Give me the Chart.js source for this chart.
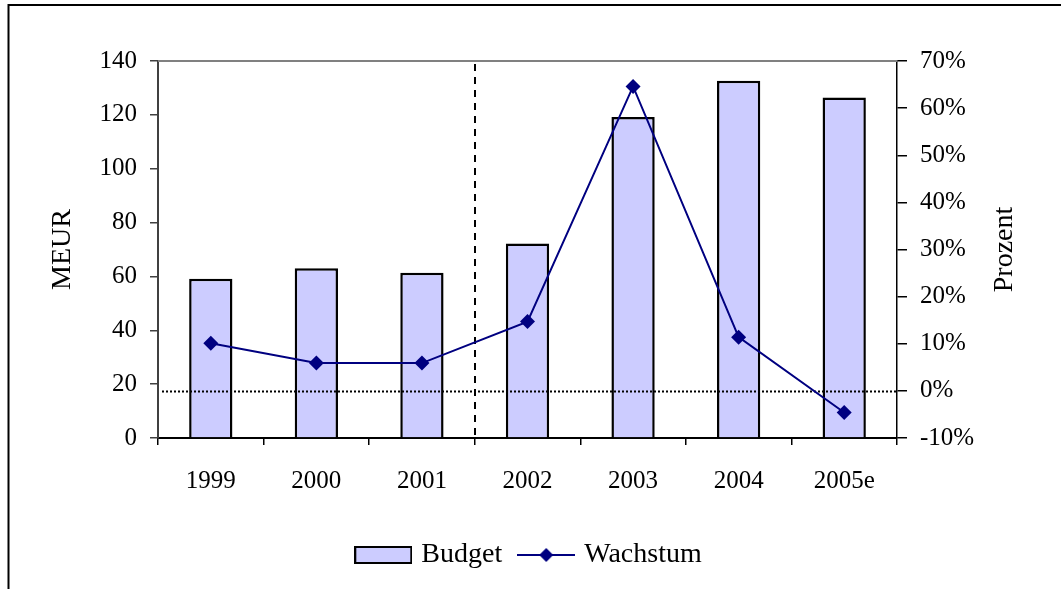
<!DOCTYPE html>
<html>
<head>
<meta charset="utf-8">
<script src="https://cdn.jsdelivr.net/npm/chart.js@4.4.1/dist/chart.umd.min.js"></script>
<style>
  html, body { margin: 0; padding: 0; background: #fff; overflow: hidden; }
  #wrap { position: relative; width: 1061px; height: 589px; }
</style>
</head>
<body>
<div id="wrap"><canvas id="budgetChart" width="1061" height="589"></canvas></div>
<script>
// Budget (MEUR) und Wachstum (%)
const years = ["1999", "2000", "2001", "2002", "2003", "2004", "2005e"];
const budget = [59.1, 63.0, 61.4, 72.2, 119.2, 132.7, 126.4];
const wachstum = [10.1, 5.9, 5.9, 14.7, 64.6, 11.4, -4.6];
const leftTicks = [0, 20, 40, 60, 80, 100, 120, 140];
const rightTicks = [-10, 0, 10, 20, 30, 40, 50, 60, 70];

const BAR_FILL = "#ccccff";
const NAVY = "#000080";

Chart.defaults.font.family = "'Liberation Serif', 'Times New Roman', serif";
Chart.defaults.color = "#000";

// legend symbols as small canvases
function barSymbol() {
  const c = document.createElement("canvas");
  c.width = 58; c.height = 18;
  const g = c.getContext("2d");
  g.fillStyle = BAR_FILL;
  g.fillRect(1, 1, 56, 16);
  g.strokeStyle = "#000";
  g.lineWidth = 2;
  g.strokeRect(1, 1, 56, 16);
  return c;
}
function lineSymbol() {
  const c = document.createElement("canvas");
  c.width = 58; c.height = 18;
  const g = c.getContext("2d");
  g.strokeStyle = NAVY;
  g.lineWidth = 2;
  g.beginPath(); g.moveTo(0, 9); g.lineTo(58, 9); g.stroke();
  g.fillStyle = NAVY;
  g.beginPath();
  g.moveTo(29, 2); g.lineTo(36, 9); g.lineTo(29, 16); g.lineTo(22, 9);
  g.closePath(); g.fill();
  return c;
}

// frame, plot top border, zero line, 2001/2002 divider, right title
const extras = {
  id: "extras",
  beforeDraw(chart) {
    const ctx = chart.ctx;
    ctx.save();
    ctx.strokeStyle = "#000";
    ctx.lineWidth = 2;
    ctx.strokeRect(8.5, 5, 1200, 1000);
    ctx.restore();
  },
  afterDatasetDraw(chart, args) {
    if (args.meta.type !== "bar") return;
    const { ctx, chartArea: a, scales } = chart;
    ctx.save();
    // 0% dotted line
    const y0 = Math.round(scales.y1.getPixelForValue(0)) + 0.5;
    ctx.strokeStyle = "#000";
    ctx.lineWidth = 2;
    ctx.setLineDash([2, 2]);
    ctx.beginPath(); ctx.moveTo(a.left + 4, y0); ctx.lineTo(a.right, y0); ctx.stroke();
    // dashed divider between 2001 and 2002
    const xd = Math.round((scales.x.getPixelForValue(2) + scales.x.getPixelForValue(3)) / 2);
    ctx.setLineDash([7, 6]);
    ctx.beginPath(); ctx.moveTo(xd, a.top + 3); ctx.lineTo(xd, a.bottom); ctx.stroke();
    ctx.restore();
  },
  afterDraw(chart) {
    const { ctx, chartArea: a } = chart;
    ctx.save();
    ctx.strokeStyle = "#808080";
    ctx.lineWidth = 2;
    ctx.beginPath(); ctx.moveTo(a.left, a.top); ctx.lineTo(a.right, a.top); ctx.stroke();
    ctx.translate(1005, (a.top + a.bottom) / 2);
    ctx.rotate(-Math.PI / 2);
    ctx.fillStyle = "#000";
    ctx.font = "28px 'Liberation Serif'";
    ctx.textAlign = "center";
    ctx.textBaseline = "middle";
    ctx.fillText("Prozent", 0, 0);
    ctx.restore();
  }
};

new Chart(document.getElementById("budgetChart"), {
  type: "bar",
  data: {
    labels: years,
    datasets: [
      {
        type: "bar",
        label: "Budget",
        data: budget,
        yAxisID: "y",
        order: 1,
        backgroundColor: BAR_FILL,
        borderColor: "#000",
        borderWidth: 2.5,
        borderSkipped: "bottom",
        categoryPercentage: 1,
        barPercentage: 0.41
      },
      {
        type: "line",
        label: "Wachstum",
        data: wachstum,
        yAxisID: "y1",
        order: 0,
        borderColor: NAVY,
        backgroundColor: NAVY,
        borderWidth: 2,
        pointStyle: "rectRot",
        pointRadius: 7.5,
        pointBorderWidth: 0,
        tension: 0
      }
    ]
  },
  options: {
    responsive: false,
    animation: false,
    layout: { padding: { top: 61, left: 0, right: 0, bottom: 10 } },
    plugins: {
      tooltip: { enabled: false },
      legend: {
        position: "bottom",
        labels: {
          usePointStyle: true,
          pointStyleWidth: 48,
          boxHeight: 18,
          padding: 20,
          font: { size: 28 },
          generateLabels: () => [
            { text: "Budget", pointStyle: barSymbol(), fontColor: "#000", datasetIndex: 0, hidden: false, lineWidth: 0 },
            { text: "Wachstum", pointStyle: lineSymbol(), fontColor: "#000", datasetIndex: 1, hidden: false, lineWidth: 0 }
          ]
        }
      }
    },
    scales: {
      x: {
        offset: true,
        border: { color: "#000", width: 2 },
        grid: { offset: true, drawOnChartArea: false, drawTicks: true, tickLength: 7, color: "#000", lineWidth: 1.5 },
        ticks: { font: { size: 25 }, padding: 21, maxRotation: 0 },
        afterFit: s => { s.height = 83; }
      },
      y: {
        position: "left",
        min: 0,
        max: 140,
        afterBuildTicks: s => { s.ticks = leftTicks.map(v => ({ value: v })); },
        border: { color: "#404040", width: 2 },
        grid: { drawOnChartArea: false, drawTicks: true, tickLength: 8, color: "#404040", lineWidth: 1.5 },
        ticks: { font: { size: 25 }, padding: 13 },
        title: { display: true, text: "MEUR", font: { size: 28 }, padding: { top: 46, bottom: 0 } },
        afterFit: s => { s.width = 158; }
      },
      y1: {
        position: "right",
        min: -10,
        max: 70,
        afterBuildTicks: s => { s.ticks = rightTicks.map(v => ({ value: v })); },
        border: { color: "#000", width: 1.5 },
        grid: { drawOnChartArea: false, drawTicks: true, tickLength: 10, color: "#000", lineWidth: 1.5 },
        ticks: { font: { size: 25 }, padding: 13, callback: v => v + "%" },
        afterFit: s => { s.width = 164; }
      }
    }
  },
  plugins: [extras]
});
</script>
</body>
</html>
